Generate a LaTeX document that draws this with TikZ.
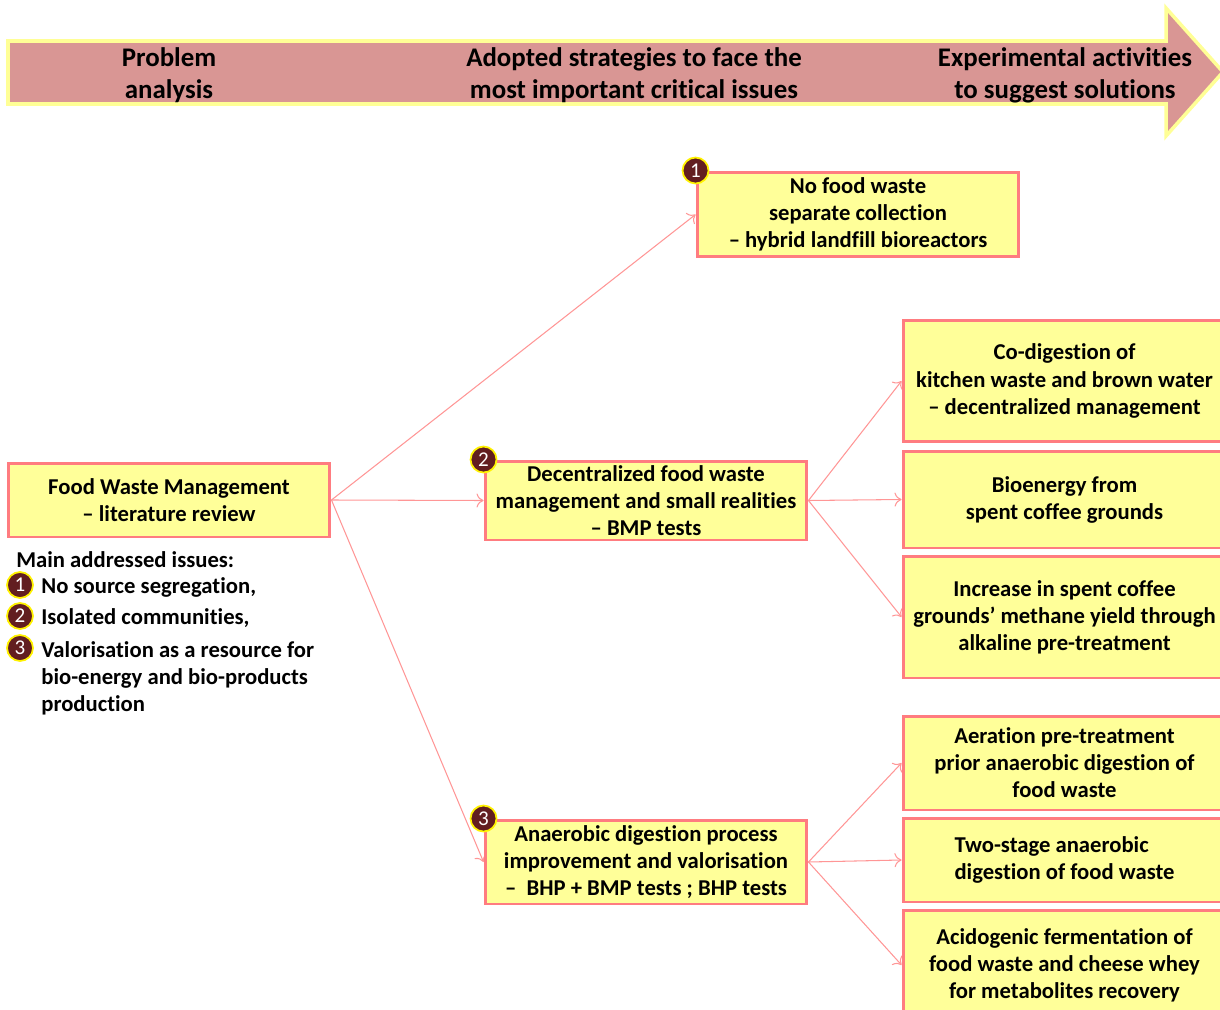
\documentclass[tikz,border=0pt]{standalone}
\usepackage{fontspec}
\setmainfont{Carlito}[Ligatures=NoCommon]
\usetikzlibrary{arrows.meta}
\pgfdeclarelayer{bg}
\pgfsetlayers{bg,main}
\definecolor{boxfill}{RGB}{255,255,153}
\definecolor{boxline}{RGB}{255,124,128}
\definecolor{arrowfill}{RGB}{217,150,148}
\definecolor{arrowline}{RGB}{255,255,150}
\definecolor{badgefill}{RGB}{98,30,32}
\definecolor{linkline}{RGB}{255,150,150}
\tikzset{
  box/.style={draw=boxline, fill=boxfill, line width=1.7pt, align=center, inner sep=0pt,
    font=\fontsize{12.9}{15.4}\selectfont\bfseries},
  badge/.style={circle, draw=yellow, fill=badgefill, line width=1pt, text=white,
    minimum size=0.52cm, inner sep=0pt, font=\fontsize{12}{12}\selectfont},
  link/.style={draw=linkline, line width=0.6pt, -{To[length=4pt,width=8pt]}},
  issue/.style={anchor=west, inner sep=0pt, align=left, font=\fontsize{12.9}{15.4}\selectfont\bfseries},
  head/.style={align=center, inner sep=0pt, font=\fontsize{15.3}{18.2}\selectfont\bfseries}
}

\begin{document}
\begin{tikzpicture}[x=0.02cm, y=-0.02cm]
        \clip (0,0) rectangle (1220,1010);
        % timeline arrow
        \draw [draw=arrowline, fill=arrowfill, line width=2pt]
          (8,41) -- (1166,41) -- (1166,8) -- (1223,72) -- (1166,136) -- (1166,104) -- (8,104) -- cycle;
        \node (h1) [head] at (169,75) {Problem\\analysis};
        \node (h2) [head] at (634,75) {Adopted strategies to face the\\most important critical issues};
        \node (h3) [head] at (1065,75) {Experimental activities\\to suggest solutions};
        % problem analysis
        \node (lit) [box, minimum width=6.44cm, minimum height=1.48cm] at (169,500) {Food Waste Management\\-- literature review};
        \node (iss) [issue] at (16,560) {Main addressed issues:};
        \node (i1) [badge] at (20,585) {1};
        \node (i2) [badge] at (20,616) {2};
        \node (i3) [badge] at (20,648) {3};
        \node (t1) [issue] at (41,587) {No source segregation,};
        \node (t2) [issue] at (41,618) {Isolated communities,};
        \node (t3) [issue] at (41,678) {Valorisation as a resource for\\bio-energy and bio-products\\production};
        % strategies
        \node (b1) [box, minimum width=6.44cm, minimum height=1.70cm] at (858,214.5) {No food waste\\separate collection\\-- hybrid landfill bioreactors};
        \node (b2) [box, minimum width=6.44cm, minimum height=1.58cm] at (646,500.5) {Decentralized food waste\\management and small realities\\-- BMP tests};
        \node (b3) [box, minimum width=6.44cm, minimum height=1.68cm] at (646,862) {Anaerobic digestion process\\improvement and valorisation\\--~~BHP + BMP tests ; BHP tests};
        \node (s1) [badge] at (b1.north west) {1};
        \node (s2) [badge] at (b2.north west) {2};
        \node (s3) [badge] at (b3.north west) {3};
        % experimental activities
        \node (r1) [box, minimum width=6.46cm, minimum height=2.44cm] at (1064.5,381) {Co-digestion of\\kitchen waste and brown water\\-- decentralized management};
        \node (r2) [box, minimum width=6.46cm, minimum height=1.94cm] at (1064.5,499.5) {Bioenergy from\\spent coffee grounds};
        \node (r3) [box, minimum width=6.46cm, minimum height=2.44cm] at (1064.5,617) {Increase in spent coffee\\grounds' methane yield through\\alkaline pre-treatment};
        \node (r4) [box, minimum width=6.46cm, minimum height=1.88cm] at (1064.5,763) {Aeration pre-treatment\\prior anaerobic digestion of\\food waste};
        \node (r5) [box, minimum width=6.46cm, minimum height=1.68cm, align=left] at (1064.5,860) {Two-stage anaerobic\\digestion of food waste};
        \node (r6) [box, minimum width=6.46cm, minimum height=2.20cm] at (1064.5,965) {Acidogenic fermentation of\\food waste and cheese whey\\for metabolites recovery};
        \begin{pgfonlayer}{bg}
                \draw (lit.east) edge [link] (b1.west);
                \draw (lit.east) edge [link] (b2.west);
                \draw (lit.east) edge [link] (b3.west);
                \draw (b2.east) edge [link] (r1.west);
                \draw (b2.east) edge [link] (r2.west);
                \draw (b2.east) edge [link] (r3.west);
                \draw (b3.east) edge [link] (r4.west);
                \draw (b3.east) edge [link] (r5.west);
                \draw (b3.east) edge [link] (r6.west);
        \end{pgfonlayer}
\end{tikzpicture}
\end{document}
